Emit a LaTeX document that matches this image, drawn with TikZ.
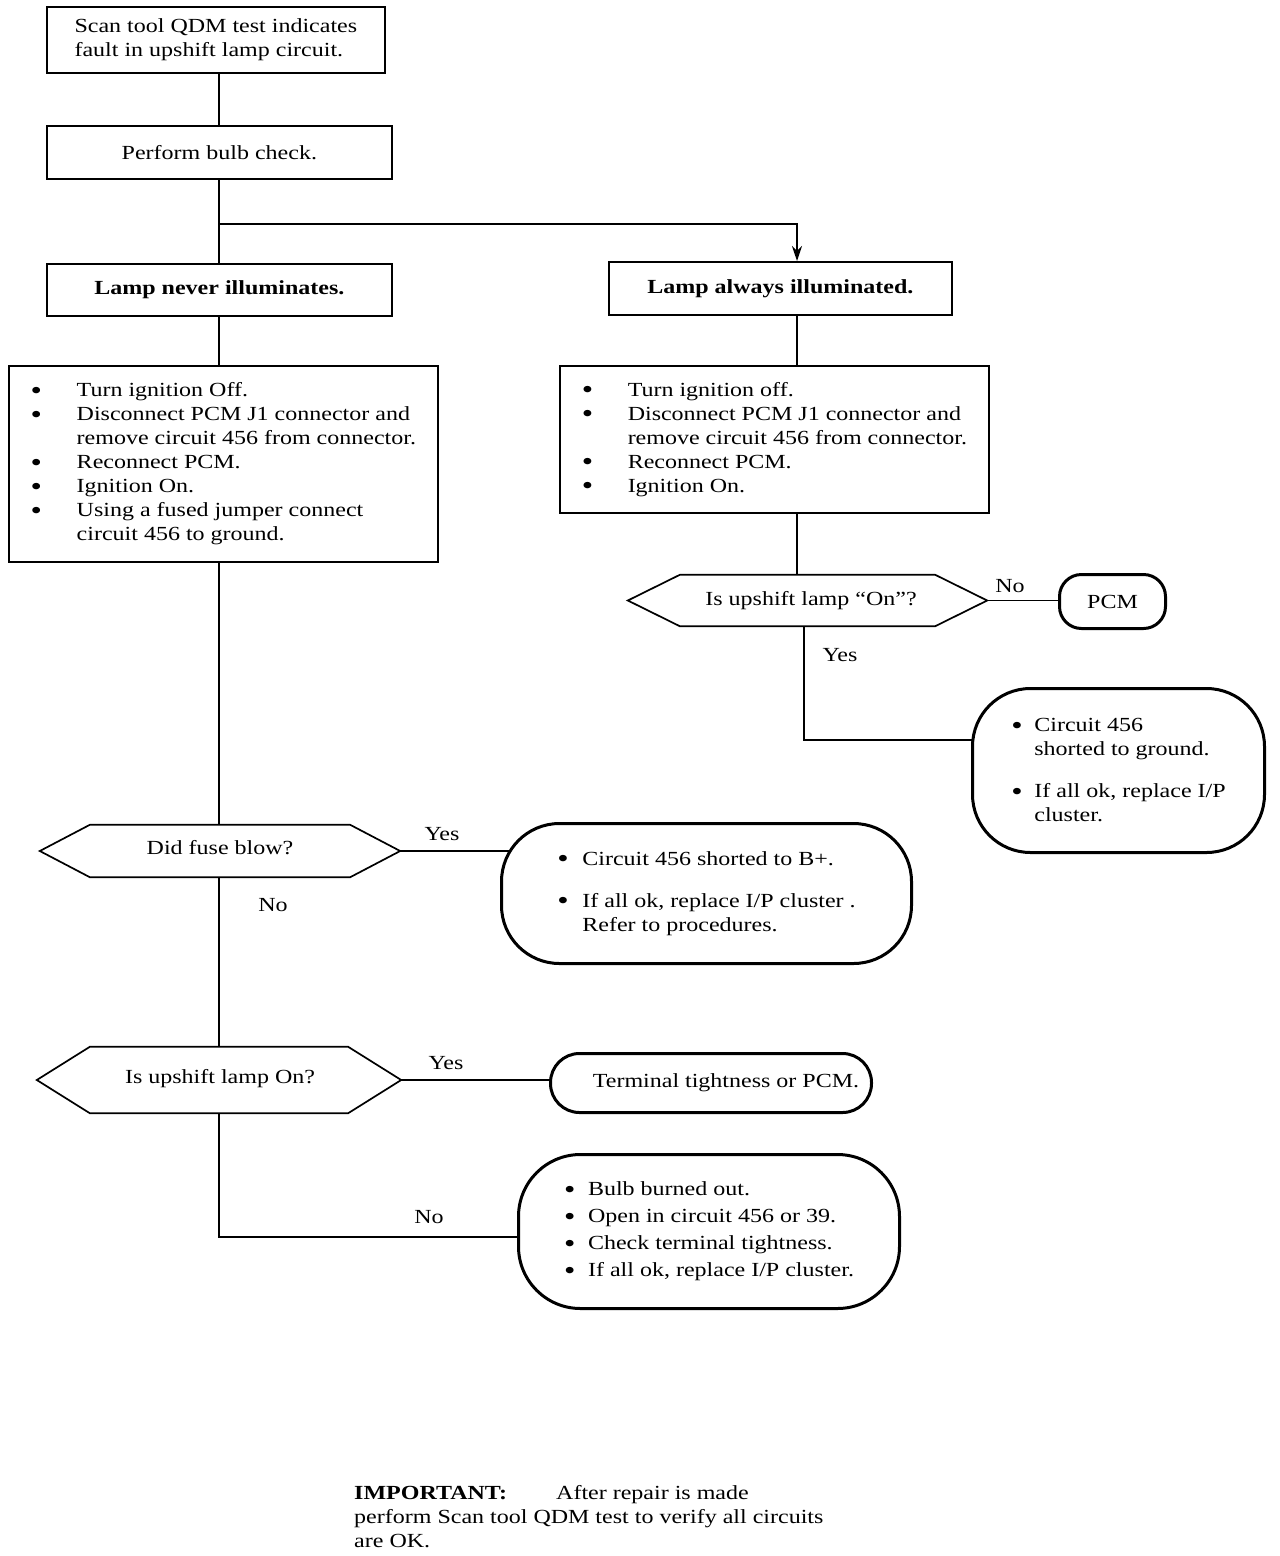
\documentclass[tikz,border=0pt]{standalone}
\usepackage{fontspec}
\setmainfont{Liberation Serif}[FakeStretch=1.2]
\usetikzlibrary{arrows.meta}
\pgfdeclarelayer{bg}
\pgfsetlayers{bg,main}
\newcommand\bulw[1]{\makebox[#1][l]{\raisebox{-2.5pt}{\fontsize{27}{24}\selectfont\textbullet}}}
\newcommand\hexa[2]{\draw[hexline] (#1.west) -- ([xshift=#2]#1.north west) -- ([xshift=-#2]#1.north east) -- (#1.east) -- ([xshift=-#2]#1.south east) -- ([xshift=#2]#1.south west) -- cycle;}
\begin{document}
\begin{tikzpicture}[x=1pt,y=-1pt,
  every node/.style={font=\fontsize{20}{24}\selectfont},
  rectbox/.style={draw, fill=white, line width=1.7pt, align=left, inner sep=0pt, anchor=north west},
  roundbox/.style={draw, fill=white, line width=3pt, align=left, inner sep=0pt, anchor=north west},
  hexnode/.style={inner sep=0pt},
  hexline/.style={draw, fill=white, line width=1.7pt},
  conn/.style={line width=1.8pt},
  lbl/.style={inner sep=1pt}]
\useasboundingbox (0,0) rectangle (1280,1556);

% boxes
\node[rectbox, minimum width=338pt, minimum height=66pt] (b1) at (46,6)
  {Scan tool QDM test indicates\\fault in upshift lamp circuit.};
\node[rectbox, minimum width=345pt, minimum height=53pt] (b2) at (46,125)
  {Perform bulb check.};
\node[rectbox, minimum width=345pt, minimum height=52pt] (b3) at (46,263)
  {\textbf{Lamp never illuminates.}};
\node[rectbox, minimum width=343pt, minimum height=53pt] (b4) at (608,261)
  {\textbf{Lamp always illuminated.}};
\node[rectbox, minimum width=429pt, minimum height=196pt] (b5) at (8,365)
  {\bulw{46pt}Turn ignition Off.\\
   \bulw{46pt}Disconnect PCM J1 connector and\\
   \hspace*{46pt}remove circuit 456 from connector.\\
   \bulw{46pt}Reconnect PCM.\\
   \bulw{46pt}Ignition On.\\
   \bulw{46pt}Using a fused jumper connect\\
   \hspace*{46pt}circuit 456 to ground.};
\node[rectbox, minimum width=429pt, minimum height=147pt] (b6) at (559,365)
  {\bulw{46pt}Turn ignition off.\\
   \bulw{46pt}Disconnect PCM J1 connector and\\
   \hspace*{46pt}remove circuit 456 from connector.\\
   \bulw{46pt}Reconnect PCM.\\
   \bulw{46pt}Ignition On.};

% decisions
\node[hexnode, minimum width=359pt, minimum height=51pt] (h1) at (807.5,600.5) {};
\hexa{h1}{52pt}
\node at (811,601) {Is upshift lamp “On”?};
\node[hexnode, minimum width=360pt, minimum height=52pt] (h2) at (220,851) {};
\hexa{h2}{50pt}
\node at (220,848) {Did fuse blow?};
\node[hexnode, minimum width=364pt, minimum height=66pt] (h3) at (219,1080) {};
\hexa{h3}{53pt}
\node at (220,1079) {Is upshift lamp On?};

% results
\node[roundbox, rounded corners=22pt, minimum width=106pt, minimum height=54pt] (pcm) at (1058,573) {PCM};
\node[roundbox, rounded corners=58pt, minimum width=292pt, minimum height=164pt] (gnd) at (971,687)
  {\bulw{23pt}Circuit 456\\
   \hspace*{23pt}shorted to ground.\\[18pt]
   \bulw{23pt}If all ok, replace I/P\\
   \hspace*{23pt}cluster.};
\node[roundbox, rounded corners=58pt, minimum width=410pt, minimum height=140pt] (bp) at (500,822)
  {\bulw{25pt}Circuit 456 shorted to B+.\\[18pt]
   \bulw{25pt}If all ok, replace I/P cluster .\\
   \hspace*{25pt}Refer to procedures.};
\node[roundbox, rounded corners=29pt, minimum width=321pt, minimum height=59pt] (term) at (549,1052)
  {\hspace*{30pt}Terminal tightness or PCM.};
\node[roundbox, rounded corners=62pt, minimum width=381pt, minimum height=154pt] (bot) at (517,1153)
  {\bulw{24pt}Bulb burned out.\\[3pt]
   \bulw{24pt}Open in circuit 456 or 39.\\[3pt]
   \bulw{24pt}Check terminal tightness.\\[3pt]
   \bulw{24pt}If all ok, replace I/P cluster.};

% labels
\node[lbl] (lno1) at (1010,586) {No};
\node[lbl] (lyes1) at (840,655) {Yes};
\node[lbl] (lyes2) at (442,834) {Yes};
\node[lbl] (lno2) at (273,905) {No};
\node[lbl] (lyes3) at (446,1063) {Yes};
\node[lbl] (lno3) at (429,1217) {No};

% important note
\node[anchor=north west, align=left, inner sep=0pt] (note) at (354,1485)
  {\makebox[202pt][l]{\textbf{IMPORTANT:}}After repair is made\\
   perform Scan tool QDM test to verify all circuits\\
   are OK.};

% connector coordinates
\coordinate (lx) at (219,0);
\coordinate (br) at (219,224);
\coordinate (ax) at (797,224);
\coordinate (yb) at (804,740);
\coordinate (nb) at (219,1237);

\begin{pgfonlayer}{bg}
\draw[conn] (lx |- b1.south) -- (lx |- b2.north);
\draw[conn] (lx |- b2.south) -- (lx |- b3.north);
\draw[conn, -{Stealth[length=15pt,width=10pt]}] (br) -- (ax) -- (ax |- b4.north);
\draw[conn] (lx |- b3.south) -- (lx |- b5.north);
\draw[conn] (ax |- b4.south) -- (ax |- b6.north);
\draw[conn] (ax |- b6.south) -- (ax |- h1.north);
\draw[conn] (h1.east) -- (pcm.center |- h1.east);
\draw[conn] (yb |- h1.south) -- (yb) -- (yb -| gnd.center);
\draw[conn] (lx |- b5.south) -- (lx |- h2.north);
\draw[conn] (h2.east) -- (bp.center |- h2.east);
\draw[conn] (lx |- h2.south) -- (lx |- h3.north);
\draw[conn] (h3.east) -- (term.center |- h3.east);
\draw[conn] (lx |- h3.south) -- (nb) -- (nb -| bot.center);
\end{pgfonlayer}
\end{tikzpicture}
\end{document}
